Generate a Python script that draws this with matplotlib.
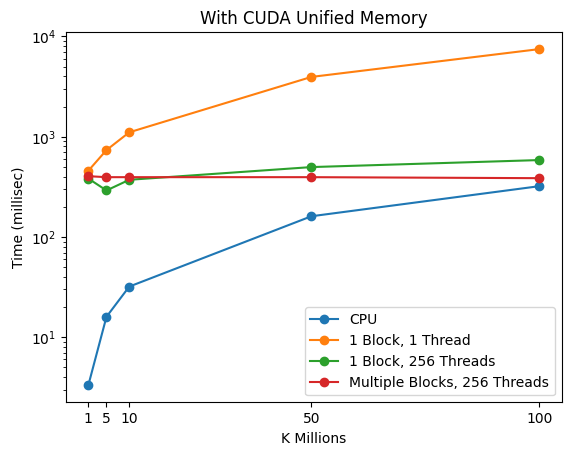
import matplotlib
matplotlib.use("Agg")
import matplotlib.pyplot as plt

k_millions = [1, 5, 10, 50, 100]
cpu = [3.3, 16, 32, 161, 321]
one_block_one_thread = [457, 736, 1107, 3950, 7480]
one_block_256_threads = [383, 291, 372, 498, 585]
multi_block_256_threads = [404, 395, 395, 395, 386]

fig = plt.figure(figsize=(5.7, 4.55), dpi=100)
fig.subplots_adjust(left=0.1153, right=0.9854, top=0.929, bottom=0.1158)

plt.plot(k_millions, cpu, marker='o', label='CPU')
plt.plot(k_millions, one_block_one_thread, marker='o', label='1 Block, 1 Thread')
plt.plot(k_millions, one_block_256_threads, marker='o', label='1 Block, 256 Threads')
plt.plot(k_millions, multi_block_256_threads, marker='o', label='Multiple Blocks, 256 Threads')

plt.yscale('log')
plt.xticks(k_millions)
plt.xlabel('K Millions')
plt.ylabel('Time (millisec)')
plt.title('With CUDA Unified Memory')
plt.legend(loc='lower right')

plt.savefig('out.png')
